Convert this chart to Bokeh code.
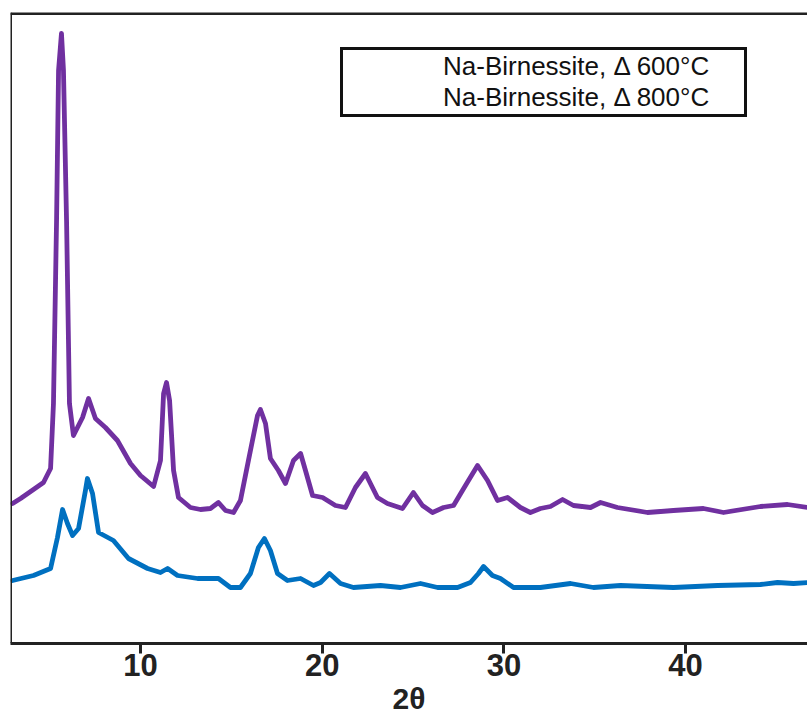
from bokeh.plotting import figure
from bokeh.models import Range1d, FixedTicker, Span, Legend, LegendItem
from bokeh.embed import file_html
from bokeh.resources import INLINE

# Na-Birnessite heated at 600 °C (purple), intensity in arbitrary units
two_theta_600 = [2.96, 3.40, 4.66, 5.05, 5.21, 5.38, 5.49, 5.65, 5.76, 5.93, 6.09, 6.31,
                 6.81, 7.14, 7.52, 8.07, 8.73, 9.45, 10.00, 10.72, 11.10, 11.27, 11.43,
                 11.60, 11.82, 12.09, 12.75, 13.30, 13.85, 14.29, 14.68, 15.12, 15.50,
                 15.94, 16.44, 16.60, 16.88, 17.15, 17.59, 17.98, 18.42, 18.81, 19.08,
                 19.47, 20.02, 20.73, 21.28, 21.83, 22.38, 23.04, 23.59, 24.42, 25.02,
                 25.52, 26.07, 26.68, 27.23, 27.72, 28.05, 28.55, 29.10, 29.65, 30.20,
                 30.91, 31.46, 32.01, 32.56, 33.23, 33.83, 34.77, 35.32, 36.25, 37.90,
                 39.33, 40.98, 42.09, 44.12, 45.61, 46.71]
intensity_600 = [140, 145, 161, 175, 240, 423, 573, 610, 573, 423, 240, 208,
                 226, 245, 225, 216, 203, 180, 168, 157, 183, 250, 261,
                 243, 173, 146, 136, 134, 135, 141, 133, 131, 143,
                 183, 228, 234, 220, 185, 173, 160, 183, 190, 173,
                 148, 146, 138, 136, 156, 170, 146, 140, 135, 151,
                 138, 131, 136, 138, 153, 163, 178, 163, 143, 146,
                 136, 131, 135, 137, 144, 138, 136, 141, 136, 131,
                 133, 135, 131, 137, 139, 136]

# Na-Birnessite heated at 800 °C (blue)
two_theta_800 = [2.96, 4.11, 5.05, 5.43, 5.71, 5.98, 6.26, 6.59, 6.97, 7.08, 7.36, 7.69,
                 8.51, 9.34, 10.39, 11.10, 11.49, 12.04, 13.14, 14.29, 14.95, 15.50,
                 16.05, 16.49, 16.82, 17.15, 17.54, 18.09, 18.81, 19.52, 19.91, 20.40,
                 21.01, 21.72, 23.21, 24.31, 25.41, 26.35, 27.45, 28.16, 28.60, 28.88,
                 29.37, 29.81, 30.53, 32.01, 33.67, 34.93, 36.42, 39.33, 41.76, 44.12,
                 45.06, 45.94, 46.71]
intensity_800 = [63, 68, 75, 106, 134, 120, 108, 115, 153, 165, 150, 111,
                 103, 85, 75, 71, 75, 68, 65, 65, 56, 56,
                 70, 96, 105, 93, 70, 63, 65, 58, 61, 70,
                 60, 56, 58, 56, 60, 56, 56, 61, 70, 77,
                 68, 65, 56, 56, 60, 56, 58, 56, 58, 59,
                 61, 60, 61]

labels = ["Na-Birnessite, \u0394 600\u00b0C", "Na-Birnessite, \u0394 800\u00b0C"]
colors = ["#7030A0", "#0070C0"]
x_ticks = [10, 20, 30, 40]

X_START, X_END = 2.845, 46.71
Y_START, Y_END = 0, 631

bold_font = "'Liberation Sans Narrow', 'Liberation Sans', Arial, sans-serif"

p = figure(width=807, height=723, output_backend="svg", toolbar_location=None,
           x_range=Range1d(X_START, X_END), y_range=Range1d(Y_START, Y_END),
           min_border_left=10, min_border_top=12, min_border_right=0, min_border_bottom=80)
p.outline_line_color = None
p.grid.visible = False
p.yaxis.visible = False
p.background_fill_color = "white"
p.border_fill_color = "white"

r600 = p.line(two_theta_600, intensity_600, line_color=colors[0], line_width=4.8,
              line_join="round", line_cap="round")
r800 = p.line(two_theta_800, intensity_800, line_color=colors[1], line_width=4.8,
              line_join="round", line_cap="round")

# frame spines (left and top)
p.add_layout(Span(location=X_START, dimension="height", line_color="#222222", line_width=3))
p.add_layout(Span(location=Y_END - 1.0, dimension="width", line_color="#222222", line_width=3))

ax = p.xaxis[0]
ax.ticker = FixedTicker(ticks=x_ticks)
ax.axis_line_width = 3
ax.axis_line_color = "#222222"
ax.major_tick_line_width = 3
ax.major_tick_line_color = "#222222"
ax.major_tick_out = 10
ax.major_tick_in = 0
ax.minor_tick_out = 0
ax.minor_tick_in = 0
ax.major_label_text_font = bold_font
ax.major_label_text_font_style = "bold"
ax.major_label_text_font_size = "31px"
ax.major_label_text_color = "#222222"
ax.major_label_standoff = 0
ax.axis_label = "2\u03b8"
ax.axis_label_text_font = bold_font
ax.axis_label_text_font_style = "bold"
ax.axis_label_text_font_size = "30px"
ax.axis_label_text_color = "#222222"
ax.axis_label_standoff = 3

legend = Legend(items=[LegendItem(label=labels[0], renderers=[r600]),
                       LegendItem(label=labels[1], renderers=[r800])],
                location=(330, 526), orientation="vertical",
                glyph_width=0, glyph_height=28, label_height=28, label_standoff=99,
                label_width=300,
                spacing=0, padding=1, margin=0,
                label_text_font="'Liberation Sans', Arial, sans-serif",
                label_text_font_size="26px", label_text_color="#111111",
                border_line_color="#111111", border_line_width=3, border_line_alpha=1.0,
                background_fill_color="white", background_fill_alpha=1.0)
p.add_layout(legend)

open("out.html", "w").write(file_html(p, INLINE))
